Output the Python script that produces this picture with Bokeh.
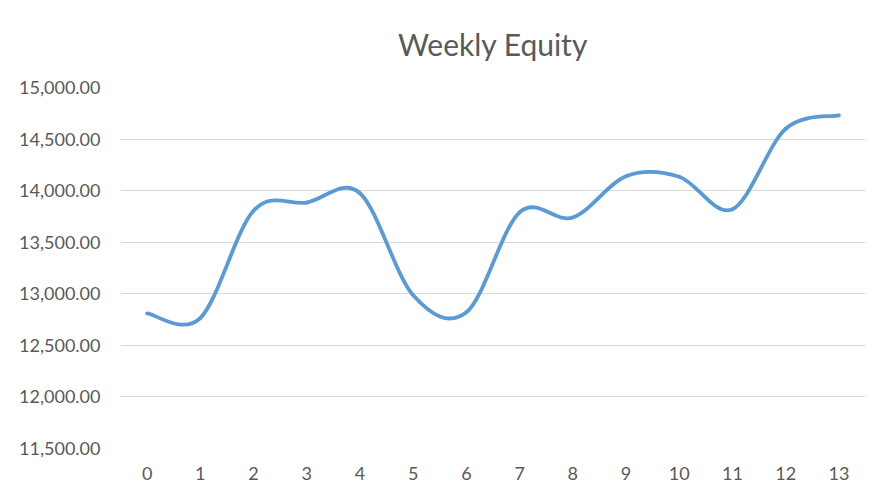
from bokeh.plotting import figure
from bokeh.models import NumeralTickFormatter, FixedTicker, Range1d, ColumnDataSource
from bokeh.embed import file_html
from bokeh.resources import INLINE

title_text = "Weekly Equity"
weeks = list(range(14))
equity = [12810, 12765, 13805, 13885, 13975, 12985, 12820, 13790, 13740, 14140, 14135, 13820, 14600, 14730]
y_ticks = [11500, 12000, 12500, 13000, 13500, 14000, 14500, 15000]

# Excel-style smoothed line: cubic Bezier segments (Catmull-Rom control points)
n = len(weeks)
x0, y0, x1, y1, cx0, cy0, cx1, cy1 = [], [], [], [], [], [], [], []
for i in range(n - 1):
    ip = max(i - 1, 0)
    inn = min(i + 2, n - 1)
    x0.append(weeks[i]); y0.append(equity[i])
    x1.append(weeks[i + 1]); y1.append(equity[i + 1])
    cx0.append(weeks[i] + (weeks[i + 1] - weeks[ip]) / 6)
    cy0.append(equity[i] + (equity[i + 1] - equity[ip]) / 6)
    cx1.append(weeks[i + 1] - (weeks[inn] - weeks[i]) / 6)
    cy1.append(equity[i + 1] - (equity[inn] - equity[i]) / 6)
src = ColumnDataSource(dict(x0=x0, y0=y0, x1=x1, y1=y1, cx0=cx0, cy0=cy0, cx1=cx1, cy1=cy1))

p = figure(width=874, height=484, output_backend="svg", toolbar_location=None,
           x_range=Range1d(-0.5, 13.5), y_range=Range1d(11500, 15000),
           title=title_text,
           min_border_left=120, min_border_right=9, min_border_top=87, min_border_bottom=36)

p.bezier(x0="x0", y0="y0", x1="x1", y1="y1", cx0="cx0", cy0="cy0", cx1="cx1", cy1="cy1",
         source=src, line_color="#5B9BD5", line_width=3.8, line_cap="round")

p.title.align = "center"
p.title.vertical_align = "top"
p.title.text_font = "Lato"
p.title.text_font_size = "30px"
p.title.text_font_style = "normal"
p.title.text_color = "#595959"
p.title.standoff = 48

p.outline_line_color = None
p.background_fill_color = "white"
p.border_fill_color = "white"

p.xaxis.ticker = FixedTicker(ticks=weeks)
p.yaxis.ticker = FixedTicker(ticks=y_ticks)
p.yaxis.formatter = NumeralTickFormatter(format="0,0.00")
for ax in (p.xaxis[0], p.yaxis[0]):
    ax.axis_line_color = None
    ax.major_tick_line_color = None
    ax.minor_tick_line_color = None
    ax.major_label_text_font = "Lato"
    ax.major_label_text_font_size = "18px"
    ax.major_label_text_color = "#595959"
p.yaxis.major_label_standoff = 14
p.xaxis.major_label_standoff = 12

p.xgrid.grid_line_color = None
p.ygrid.grid_line_color = "#D9D9D9"
p.ygrid.grid_line_width = 1

open("out.html", "w").write(file_html(p, INLINE))
